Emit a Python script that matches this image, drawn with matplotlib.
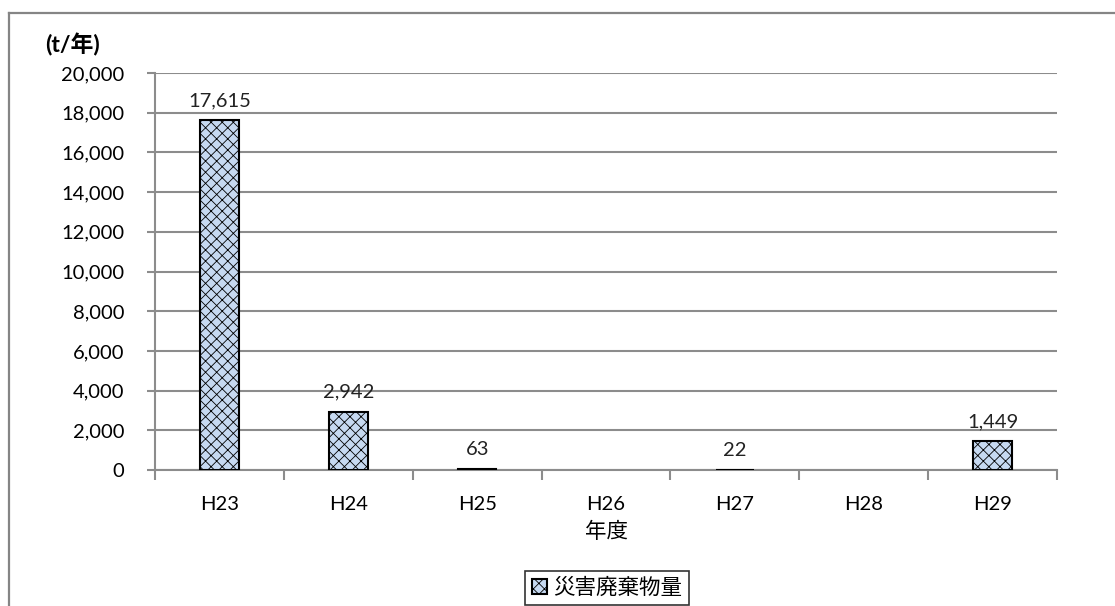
import matplotlib.pyplot as plt
import matplotlib.lines as mlines
import numpy as np

plt.rcParams['font.family'] = ['Lato', 'Noto Sans CJK JP', 'DejaVu Sans']
plt.rcParams['hatch.color'] = '#2a4470'
plt.rcParams['hatch.linewidth'] = 0.6

years = ["H23", "H24", "H25", "H26", "H27", "H28", "H29"]
amounts = [17615, 2942, 63, 0, 22, 0, 1449]
labels = ["17,615", "2,942", "63", "", "22", "", "1,449"]
yticks = np.arange(0, 20001, 2000)

grey = '#8c8c8c'

fig = plt.figure(figsize=(11.15, 6.06), dpi=100)
ax = fig.add_axes([155 / 1115, 1 - 470 / 606, 902 / 1115, 397 / 606])

x = np.arange(len(years))
bars = ax.bar(x, amounts, width=0.3, color='#c6d9f1', edgecolor='black',
              linewidth=1.5, hatch='xxx', label="災害廃棄物量", zorder=3)
# zero-valued years get no visible bar
for b, v in zip(bars, amounts):
    if v == 0:
        b.set_visible(False)
for xi, v, t in zip(x, amounts, labels):
    if t:
        ax.text(xi, v + 550, t, ha='center', va='bottom', fontsize=14.5, color='#222222')

ax.set_xlim(-0.5, len(years) - 0.5)
ax.set_ylim(0, 20000)
ax.set_yticks(yticks)
ax.set_yticklabels([f"{v:,}" for v in yticks], fontsize=14.5)
ax.set_xticks(x)
ax.set_xticklabels(years, fontsize=14.5)
ax.tick_params(axis='x', length=0, pad=19)
ax.tick_params(axis='y', length=6, color=grey, width=1.5, pad=16)
# category boundary ticks below the axis
ax.set_xticks(np.arange(-0.5, len(years)), minor=True)
ax.tick_params(axis='x', which='minor', length=7, color=grey, width=1.5)

ax.grid(axis='y', color=grey, linewidth=1.5, zorder=0)
for s in ['top', 'right']:
    ax.spines[s].set_visible(False)
for s in ['left', 'bottom']:
    ax.spines[s].set_color(grey)
    ax.spines[s].set_linewidth(1.5)

ax.set_xlabel("年度", fontsize=15.5, labelpad=6)
fig.text(72 / 1115, 1 - 45 / 606, "(t/年)", ha='center', va='center',
         fontsize=16.5, fontweight='bold')

leg = ax.legend(loc='center', bbox_to_anchor=(607 / 1115, 1 - 588 / 606),
                bbox_transform=fig.transFigure, fontsize=15.5, frameon=True,
                fancybox=False, edgecolor='black', handlelength=0.7,
                handleheight=0.7, handletextpad=0.3, borderpad=0.3,
                borderaxespad=0)
leg.get_frame().set_linewidth(1.2)

# outer chart frame
fig.add_artist(mlines.Line2D([8.5 / 1115, 8.5 / 1115], [0, 1 - 12.5 / 606],
                             color='#858585', linewidth=1.6, transform=fig.transFigure))
fig.add_artist(mlines.Line2D([8.5 / 1115, 1], [1 - 12.5 / 606, 1 - 12.5 / 606],
                             color='#858585', linewidth=1.6, transform=fig.transFigure))

fig.savefig("out.png", dpi=100)
